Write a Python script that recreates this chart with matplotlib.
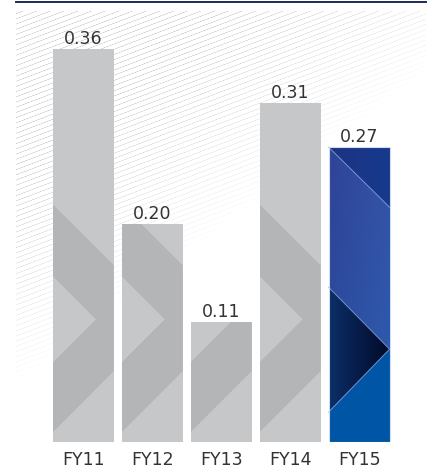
import numpy as np
import matplotlib
matplotlib.use("Agg")
import matplotlib.pyplot as plt
from matplotlib.patches import Polygon, Rectangle
from matplotlib.lines import Line2D

years = ["FY11", "FY12", "FY13", "FY14", "FY15"]
values = [0.36, 0.20, 0.11, 0.31, 0.27]

LIGHT_GREY = "#c6c7c9"
DARK_GREY = "#b4b5b7"
TEXT = "#333333"

W_PX, H_PX = 440, 477
BAR_W = 0.884
PX_PER_UNIT = 1092

plt.rcParams["font.family"] = ["DejaVu Sans"]


def hatch_background():
    # faint diagonal pinstripes fading out towards the lower right
    yy, xx = np.mgrid[0:H_PX, 0:W_PX] + 0.5
    slope, spacing = 0.38, 5.2
    t = (yy + slope * xx) % spacing
    d = np.minimum(t, spacing - t) / np.sqrt(1 + slope ** 2)
    ink = np.clip(1.0 - d / 0.65, 0, 1)
    edge = 385 - 0.76 * (xx - 16)
    fade = np.clip((edge - yy) / 210.0, 0, 1) ** 0.7
    inside = (xx >= 16) & (xx <= 426) & (yy >= 12)
    rgba = np.zeros((H_PX, W_PX, 4))
    rgba[..., :3] = 165 / 255
    rgba[..., 3] = ink * fade * 0.55 * inside
    return rgba


def gradient(c_tl, c_tr, c_bl, c_br, n=64):
    c = [np.array(matplotlib.colors.to_rgb(k)) for k in (c_tl, c_tr, c_bl, c_br)]
    u = np.linspace(0, 1, n)[None, :, None]
    v = np.linspace(0, 1, n)[:, None, None]
    top = c[0] * (1 - u) + c[1] * u
    bot = c[2] * (1 - u) + c[3] * u
    return top * (1 - v) + bot * v


def shape(x0, pts):
    return [(x0 + u * BAR_W, y) for u, y in pts]


fig = plt.figure(figsize=(W_PX / 100, H_PX / 100), dpi=100)
bg = fig.add_axes([0, 0, 1, 1])
bg.imshow(hatch_background(), extent=(0, W_PX, H_PX, 0), interpolation="nearest")
bg.set_xlim(0, W_PX)
bg.set_ylim(H_PX, 0)
bg.axis("off")

fig.add_artist(Line2D([16 / W_PX, 426 / W_PX], [1 - 3 / H_PX] * 2,
                      color="#1c2a5c", lw=1.4))

ax = fig.add_axes([16 / W_PX, 34 / H_PX, 410 / W_PX, 431 / H_PX])
ax.patch.set_alpha(0)
x = np.arange(len(years))
colors = [LIGHT_GREY] * 4 + ["#0055a5"]
bars = ax.bar(x, values, width=BAR_W, color=colors, zorder=2)

# chevron on the grey bars (bar-width fraction, value units)
chevron = [(0, 0.2175), (1, 0.1618), (1, 0.0649), (0, 0.0091),
           (0, 0.0731), (0.705, 0.1124), (0, 0.1517)]
for i in range(4):
    x0 = x[i] - BAR_W / 2
    p = Polygon(shape(x0, chevron), closed=True, facecolor=DARK_GREY,
                edgecolor="none", zorder=3)
    ax.add_patch(p)
    p.set_clip_path(bars[i])

# highlighted bar: shaded blue facets
top = values[4]
x0 = x[4] - BAR_W / 2
facets = [
    ([(0, top), (1, top), (1, top - 0.055)],
     gradient("#1d3383", "#163a8d", "#1d3383", "#163a8d")),
    ([(0, top), (1, top - 0.055), (1, 0.085), (0, 0.1417)],
     gradient("#2f4396", "#3652a6", "#2a4fa2", "#2a5cb0")),
    ([(0, 0.1417), (1, 0.085), (0, 0.0274)],
     gradient("#0b2e68", "#020a28", "#0b2e68", "#020a28")),
    ([(0, 0.0274), (1, 0.085), (1, 0), (0, 0)],
     gradient("#0a55a2", "#0056a7", "#0055a5", "#0056a7")),
]
for pts, img in facets:
    p = Polygon(shape(x0, pts), closed=True, facecolor="none", edgecolor="none")
    ax.add_patch(p)
    im = ax.imshow(img, extent=(x0, x0 + BAR_W, 0, top), origin="upper",
                   aspect="auto", zorder=3, interpolation="bilinear")
    im.set_clip_path(p)

for seg in ([(0, top), (1, top - 0.055)],
            [(0, 0.1417), (1, 0.085), (0, 0.0274)]):
    xs, ys = zip(*shape(x0, seg))
    ax.plot(xs, ys, color="#8ea8dc", lw=0.7, alpha=0.8, zorder=4)
ax.add_patch(Rectangle((x0, 0), BAR_W, top, facecolor="none",
                       edgecolor="#d3dbee", lw=0.8, zorder=5))

for xi, v in zip(x, values):
    ax.annotate(f"{v:.2f}", (xi, v), xytext=(0, 1.5), textcoords="offset points",
                ha="center", va="bottom", fontsize=12.5, color=TEXT)

ax.set_xlim(-0.978, 4.971)
ax.set_ylim(0, 431 / PX_PER_UNIT)
ax.set_xticks(x, years)
ax.tick_params(axis="x", length=0, pad=5.5, labelsize=12.5, labelcolor=TEXT)
ax.set_yticks([])
for s in ax.spines.values():
    s.set_visible(False)

fig.savefig("out.png", dpi=100)
